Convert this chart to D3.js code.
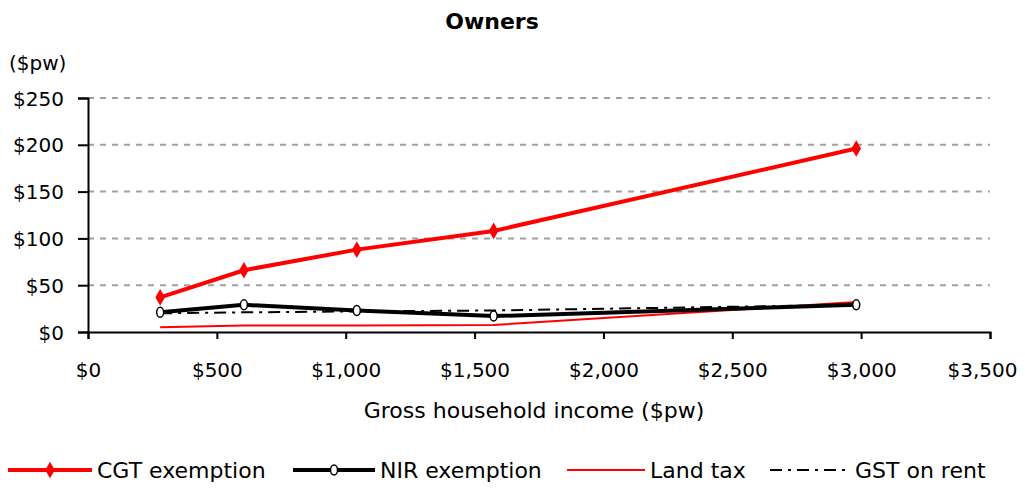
<!DOCTYPE html>
<html>
<head>
<meta charset="utf-8">
<script src="https://cdn.jsdelivr.net/npm/d3@7"></script>
<style>
  body { margin: 0; background: #fff; }
  text { font-family: 'DejaVu Sans', sans-serif; fill: #000; }
</style>
</head>
<body>
<div class="chart"></div>
<script>
// incomes at which each series is plotted ($pw)
const incomes = [280, 605, 1043, 1574, 2981];
const cgtExemption = [37, 66, 88, 108, 196];
const nirExemption = [21, 29, 23, 17, 29];
const landTax = [5, 7, 7, 7.5, 32];
const gstOnRent = [20, 21, 22, 23, 29];

const xTicks = [0, 500, 1000, 1500, 2000, 2500, 3000, 3500];
const yTicks = [0, 50, 100, 150, 200, 250];

const series = [
  {name: 'CGT exemption', values: cgtExemption, color: '#ff0000', width: 4, dash: null, marker: 'diamond'},
  {name: 'NIR exemption', values: nirExemption, color: '#000000', width: 4, dash: null, marker: 'circle'},
  {name: 'Land tax', values: landTax, color: '#ff0000', width: 2, dash: null, marker: null},
  {name: 'GST on rent', values: gstOnRent, color: '#000000', width: 2, dash: '12,6,3,6', marker: null},
];

const W = 1025, H = 488;
const margin = {top: 98, right: 35, bottom: 156, left: 88};

const svg = d3.select('.chart')
  .append('svg')
  .attr('width', W)
  .attr('height', H);

const x = d3.scaleLinear().domain([0, 3500]).range([margin.left, W - margin.right]);
const y = d3.scaleLinear().domain([0, 250]).range([H - margin.bottom, margin.top]);

// gridlines
svg.append('g')
  .selectAll('line')
  .data(yTicks.filter(d => d > 0))
  .enter()
  .append('line')
  .attr('x1', x(0))
  .attr('x2', x(3500))
  .attr('y1', d => y(d))
  .attr('y2', d => y(d))
  .attr('stroke', '#a0a0a0')
  .attr('stroke-width', 2)
  .attr('stroke-dasharray', '6,6');

// y axis
const yAxis = svg.append('g')
  .attr('transform', `translate(${x(0)},0)`)
  .call(d3.axisLeft(y).tickValues(yTicks).tickSize(10).tickPadding(14)
    .tickFormat(d => '$' + d));
// x axis
const xAxis = svg.append('g')
  .attr('transform', `translate(0,${y(0)})`)
  .call(d3.axisBottom(x).tickValues(xTicks).tickSize(7).tickPadding(24)
    .tickFormat(d => '$' + d3.format(',')(d)));

[yAxis, xAxis].forEach(a => {
  a.select('.domain').attr('stroke', '#000').attr('stroke-width', 2);
  a.selectAll('.tick line').attr('stroke', '#000').attr('stroke-width', 2);
  a.selectAll('.tick text').style('font-family', "'DejaVu Sans', sans-serif").attr('fill', '#000');
});
yAxis.selectAll('.tick text').style('font-size', '20px').attr('dy', '0.35em');
xAxis.selectAll('.tick text').style('font-size', '20px');
// keep the last label inside the page
xAxis.selectAll('.tick text').filter(d => d === 3500).attr('dx', -8);

const line = d3.line()
  .x((d, i) => x(incomes[i]))
  .y(d => y(d));

// draw thin series first, then thick ones on top
const order = [3, 2, 1, 0];
order.forEach(k => {
  const s = series[k];
  svg.append('path')
    .datum(s.values)
    .attr('fill', 'none')
    .attr('stroke', s.color)
    .attr('stroke-width', s.width)
    .attr('stroke-dasharray', s.dash)
    .attr('d', line);
});

function drawMarker(g, type, cx, cy) {
  if (type === 'diamond') {
    g.append('path')
      .attr('d', d3.symbol().type(d3.symbolDiamond).size(80)())
      .attr('transform', `translate(${cx},${cy})`)
      .attr('fill', '#ff0000');
  } else if (type === 'circle') {
    g.append('ellipse')
      .attr('cx', cx).attr('cy', cy)
      .attr('rx', 3.5).attr('ry', 5)
      .attr('fill', '#fff')
      .attr('stroke', '#000')
      .attr('stroke-width', 1.5);
  }
}

series.forEach(s => {
  if (!s.marker) return;
  const g = svg.append('g');
  s.values.forEach((v, i) => drawMarker(g, s.marker, x(incomes[i]), y(v)));
});

// titles
svg.append('text')
  .attr('x', 492).attr('y', 29)
  .attr('text-anchor', 'middle')
  .style('font-size', '22px')
  .style('font-weight', 'bold')
  .text('Owners');

svg.append('text')
  .attr('x', 9).attr('y', 70)
  .style('font-size', '20px')
  .text('($pw)');

svg.append('text')
  .attr('x', 534).attr('y', 418)
  .attr('text-anchor', 'middle')
  .style('font-size', '22px')
  .text('Gross household income ($pw)');

// legend
const legendX = [8, 293, 567, 770];
const legendW = [84, 82, 78, 80];
const legend = svg.append('g').attr('transform', 'translate(0,470)');
series.forEach((s, i) => {
  const g = legend.append('g').attr('transform', `translate(${legendX[i]},0)`);
  g.append('line')
    .attr('x1', 0).attr('x2', legendW[i])
    .attr('y1', 0).attr('y2', 0)
    .attr('stroke', s.color)
    .attr('stroke-width', s.width === 4 ? 4 : 2)
    .attr('stroke-dasharray', s.dash);
  if (s.marker) drawMarker(g, s.marker, legendW[i] / 2, 0);
  g.append('text')
    .attr('x', legendW[i] + 5).attr('y', 0)
    .attr('dy', '0.35em')
    .style('font-size', '22px')
    .text(s.name);
});
</script>
</body>
</html>
